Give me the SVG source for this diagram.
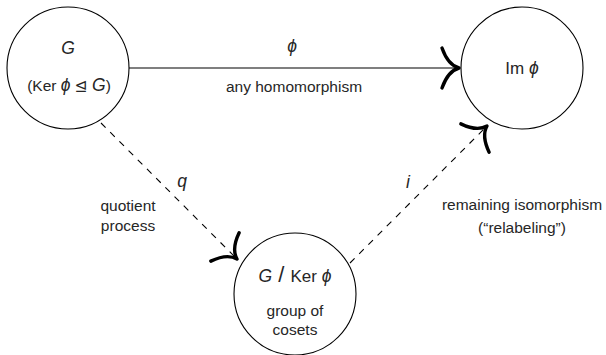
<svg xmlns="http://www.w3.org/2000/svg" width="606" height="355" viewBox="0 0 606 355">
<style>
.node{fill:#fff;stroke:#000;stroke-width:1.1}
.edge{fill:none;stroke:#000;stroke-width:1.1}
.dash{stroke-dasharray:6.5 6.5}
text{font-family:"Liberation Sans","DejaVu Sans",sans-serif;font-size:15.5px;fill:#262626;text-anchor:middle}
.m{font-style:italic;font-size:17.5px}
.sym{font-family:"DejaVu Sans",sans-serif}
.big{font-size:22px;font-weight:300}
.lg{font-size:17px}
</style>
<defs>
<marker id="cm" markerUnits="userSpaceOnUse" viewBox="-22 -24 26 48" markerWidth="26" markerHeight="48" refX="0" refY="0" orient="auto" overflow="visible">
<path d="M-17,-20 Q-11,-3 0,0 Q-11,3 -17,20" fill="none" stroke="#000" stroke-width="3.4" stroke-linecap="round" stroke-linejoin="round"/>
</marker>
</defs>
<g id="connectors">
<line class="edge" x1="129" y1="68" x2="459" y2="68" marker-end="url(#cm)"/>
<line class="edge dash" x1="101" y1="123" x2="237" y2="259" marker-end="url(#cm)"/>
<line class="edge dash" x1="350" y1="263" x2="487" y2="126" marker-end="url(#cm)"/>
<text x="292" y="52" class="m">ϕ</text>
<text x="294" y="92">any homomorphism</text>
<text x="182" y="187" class="m">q</text>
<text x="128" y="211">quotient</text>
<text x="128" y="231">process</text>
<text x="408" y="188" class="m">i</text>
<text x="522" y="210">remaining isomorphism</text>
<text x="522" y="233">(“relabeling”)</text>
</g>
<g id="G">
<circle class="node" cx="68" cy="68" r="61"/>
<text x="68" y="54" class="m">G</text>
<text x="69" y="91">(Ker <tspan class="m">ϕ</tspan> <tspan class="sym">⊴</tspan> <tspan class="m">G</tspan>)</text>
</g>
<g id="Im">
<circle class="node" cx="522" cy="68" r="61"/>
<text x="522" y="74" class="lg">Im <tspan class="m">ϕ</tspan></text>
</g>
<g id="Quot">
<circle class="node" cx="295" cy="294" r="61"/>
<text x="295" y="282" class="lg"><tspan class="m">G</tspan><tspan class="big"> / </tspan>Ker <tspan class="m">ϕ</tspan></text>
<text x="295" y="316">group of</text>
<text x="295" y="335">cosets</text>
</g>
</svg>
